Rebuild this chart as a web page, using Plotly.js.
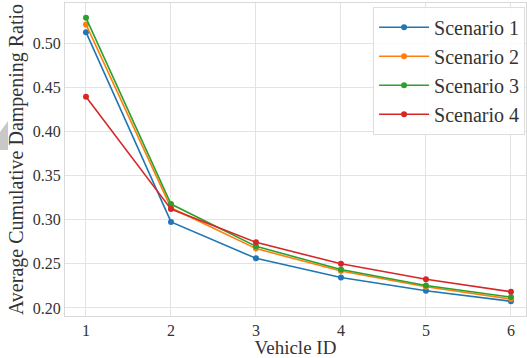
<!DOCTYPE html>
<html>
<head>
<meta charset="utf-8">
<script src="https://cdn.plot.ly/plotly-3.0.1.min.js"></script>
<style>html,body{margin:0;padding:0;background:#fff;}#chart{width:527px;height:358px;}</style>
</head>
<body>
<div id="chart"></div>
<script>
const vehicleIds = [1, 2, 3, 4, 5, 6];
const seriesNames = ["Scenario 1", "Scenario 2", "Scenario 3", "Scenario 4"];
const scenario1 = [0.5125, 0.2975, 0.2562, 0.2345, 0.2195, 0.2076];
const scenario2 = [0.5212, 0.3135, 0.2673, 0.2418, 0.2240, 0.2101];
const scenario3 = [0.5287, 0.3177, 0.2699, 0.2436, 0.2255, 0.2123];
const scenario4 = [0.4394, 0.3120, 0.2744, 0.2500, 0.2326, 0.2184];
const colors = ["#1f77b4", "#ff7f0e", "#2ca02c", "#d62728"];
const allSeries = [scenario1, scenario2, scenario3, scenario4];

const traces = allSeries.map((vals, i) => ({
  x: vehicleIds,
  y: vals,
  name: seriesNames[i],
  type: "scatter",
  mode: "lines+markers",
  line: {color: colors[i], width: 1.6},
  marker: {color: colors[i], size: 6}
}));

const font = "'Liberation Serif', 'Times New Roman', serif";
const layout = {
  width: 527, height: 358,
  margin: {l: 65, r: 1, t: 3, b: 42},
  paper_bgcolor: "#ffffff",
  plot_bgcolor: "#ffffff",
  font: {family: font, color: "#333333"},
  showlegend: true,
  xaxis: {
    range: [0.753, 6.177],
    tickvals: vehicleIds,
    ticktext: vehicleIds.map(String),
    showgrid: true, gridcolor: "#e3e3e3", gridwidth: 1,
    zeroline: false,
    showline: true, mirror: true, linecolor: "#d9d9d9", linewidth: 1,
    ticks: "",
    tickfont: {size: 16, family: font, color: "#333"},
    title: {text: "Vehicle ID", font: {size: 19, family: font, color: "#333"}, standoff: 5}
  },
  yaxis: {
    range: [0.1909, 0.5455],
    tickvals: [0.20, 0.25, 0.30, 0.35, 0.40, 0.45, 0.50],
    ticktext: ["0.20", "0.25", "0.30", "0.35", "0.40", "0.45", "0.50"],
    showgrid: true, gridcolor: "#e3e3e3", gridwidth: 1,
    zeroline: false,
    showline: true, mirror: true, linecolor: "#d9d9d9", linewidth: 1,
    ticks: "",
    tickfont: {size: 16, family: font, color: "#333"},
    title: {text: "Average Cumulative Dampening Ratio", font: {size: 20, family: font, color: "#333"}, standoff: 3}
  },
  legend: {
    x: 0.998, xanchor: "right", y: 0.988, yanchor: "top",
    bgcolor: "rgba(255,255,255,0.85)",
    bordercolor: "#dddddd", borderwidth: 1,
    font: {size: 20, family: font, color: "#333"},
    itemwidth: 50,
    tracegroupgap: 0
  },
  shapes: [{
    type: "path", xref: "paper", yref: "paper",
    path: "M -0.141 0.588 L -0.1236 0.623 L -0.1236 0.530 L -0.141 0.530 Z",
    fillcolor: "#c8c8c8", line: {width: 0}, layer: "above"
  }]
};

Plotly.newPlot("chart", traces, layout, {displayModeBar: false, staticPlot: true});
</script>
</body>
</html>
